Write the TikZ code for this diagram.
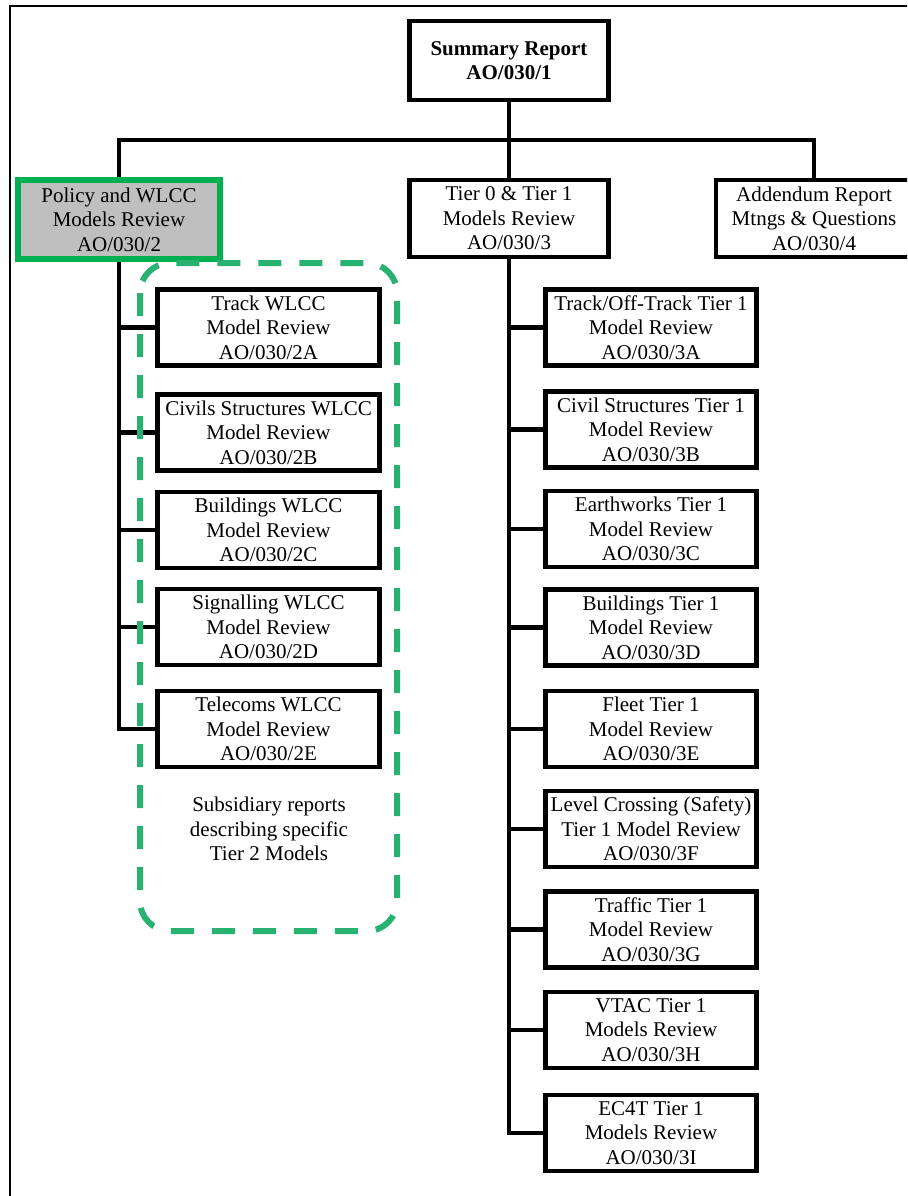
\documentclass[tikz,border=0pt]{standalone}
\usepackage{fontspec}
\setmainfont{Liberation Serif}
\newfontfamily\reportfont{Liberation Serif}
\usepackage{tikz}
\pgfdeclarelayer{bg}
\pgfsetlayers{bg,main}
\definecolor{policygreen}{RGB}{0,176,80}
\definecolor{tiergreen}{RGB}{40,178,114}
\tikzset{
  report/.style={draw, line width=2.4pt, fill=white, align=center, inner sep=0pt,
    minimum height=38pt, font=\reportfont\fontsize{10.5}{12.2}\selectfont},
  tiertwo/.style={report, minimum width=111pt},
  tierone/.style={report, minimum width=105.5pt},
  link/.style={line width=2.4pt},
}

\begin{document}
\begin{tikzpicture}[x=0.5pt,y=-0.5pt]
        \useasboundingbox (0,0) rectangle (907,1196);
        \clip (0,0) rectangle (907,1196);
        \draw[line width=1pt] (10,6) rectangle (940,1230);
        \node (sum) [report, minimum width=99.5pt, minimum height=39.5pt] at (509,60.5) {\textbf{Summary Report}\\\textbf{AO/030/1}};
        \node (pol) [report, draw=policygreen, line width=3pt, fill=gray!50, minimum width=101pt, minimum height=39.5pt] at (119,219.5) {Policy and WLCC\\Models Review\\AO/030/2};
        \node (tier) [report, minimum width=99.5pt, minimum height=38.5pt] at (509,218.5) {Tier 0 \& Tier 1\\Models Review\\AO/030/3};
        \node (add) [report, minimum width=98pt, minimum height=38.5pt] at (814,218.5) {Addendum Report\\Mtngs \& Questions\\AO/030/4};
        \coordinate (bus) at (509,140);
        % tier 2 reports
        \node (l2A) [tiertwo] at (268.5,327.5) {Track WLCC\\Model Review\\AO/030/2A};
        \node (l2B) [tiertwo] at (268.5,432.5) {Civils Structures WLCC\\Model Review\\AO/030/2B};
        \node (l2C) [tiertwo] at (268.5,530) {Buildings WLCC\\Model Review\\AO/030/2C};
        \node (l2D) [tiertwo] at (268.5,627) {Signalling WLCC\\Model Review\\AO/030/2D};
        \node (l2E) [tiertwo] at (268.5,729) {Telecoms WLCC\\Model Review\\AO/030/2E};
        \node (sub) [align=center, font=\reportfont\fontsize{10.5}{12.2}\selectfont] at (269,829) {Subsidiary reports\\describing specific\\Tier 2 Models};
        % tier 1 reports
        \node (r3A) [tierone] at (651,327.5) {Track/Off-Track Tier 1\\Model Review\\AO/030/3A};
        \node (r3B) [tierone] at (651,429.5) {Civil Structures Tier 1\\Model Review\\AO/030/3B};
        \node (r3C) [tierone] at (651,529) {Earthworks Tier 1\\Model Review\\AO/030/3C};
        \node (r3D) [tierone] at (651,627.5) {Buildings Tier 1\\Model Review\\AO/030/3D};
        \node (r3E) [tierone] at (651,729) {Fleet Tier 1\\Model Review\\AO/030/3E};
        \node (r3F) [tierone] at (651,829) {Level Crossing (Safety)\\Tier 1 Model Review\\AO/030/3F};
        \node (r3G) [tierone] at (651,929.5) {Traffic Tier 1\\Model Review\\AO/030/3G};
        \node (r3H) [tierone] at (651,1030) {VTAC Tier 1\\Models Review\\AO/030/3H};
        \node (r3I) [tierone] at (651,1133) {EC4T Tier 1\\Models Review\\AO/030/3I};
        \begin{pgfonlayer}{bg}
                \draw[link] (sum) -- (bus);
                \draw[link] (pol.north) |- (bus) -| (add.north);
                \draw[link] (bus) -- (tier.north);
                \foreach \r in {l2A,l2B,l2C,l2D,l2E}
                        \draw[link] (pol.south) |- (\r.west);
                \foreach \r in {r3A,r3B,r3C,r3D,r3E,r3F,r3G,r3H,r3I}
                        \draw[link] (tier.south) |- (\r.west);
        \end{pgfonlayer}
        \draw[tiergreen, line width=3pt, dash pattern=on 11.5pt off 9pt, rounded corners=15pt] (140,263) rectangle (397,931);
\end{tikzpicture}
\end{document}
